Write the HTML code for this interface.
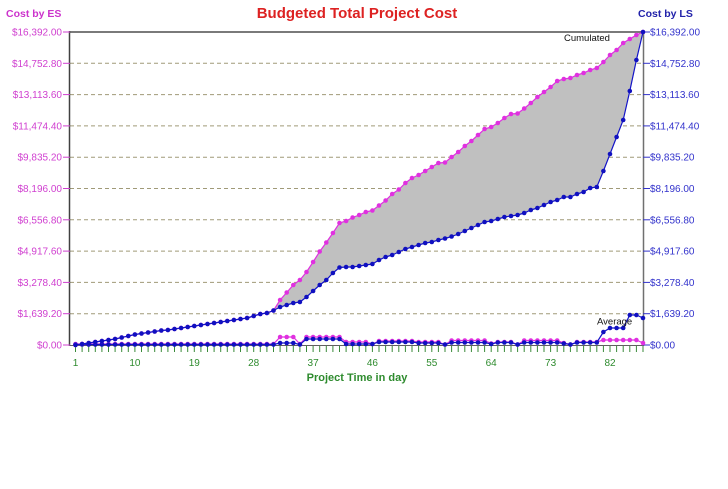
<!DOCTYPE html>
<html><head><meta charset="utf-8">
<style>
html,body{margin:0;padding:0;background:#fff;}
svg{display:block;font-family:"Liberation Sans",Arial,sans-serif;}
</style></head>
<body>
<svg width="728" height="489" viewBox="0 0 728 489" xmlns="http://www.w3.org/2000/svg">
<defs>
<marker id="mm" markerWidth="6" markerHeight="6" refX="3" refY="3" markerUnits="userSpaceOnUse"><circle cx="3" cy="3" r="2.3" fill="#e030e0"/></marker>
<marker id="mb" markerWidth="6" markerHeight="6" refX="3" refY="3" markerUnits="userSpaceOnUse"><circle cx="3" cy="3" r="2.3" fill="#1010c0"/></marker>
</defs>
<rect width="728" height="489" fill="#fff"/>

<!-- titles -->
<text x="357" y="18" text-anchor="middle" font-size="15" font-weight="bold" fill="#dd2222">Budgeted Total Project Cost</text>
<text x="6" y="17" font-size="10.5" font-weight="bold" fill="#cc33cc">Cost by ES</text>
<text x="638" y="17" font-size="10.5" font-weight="bold" fill="#2222aa">Cost by LS</text>

<!-- gridlines -->
<g stroke="#a09a78" stroke-width="1" stroke-dasharray="4,3">
<line x1="70" y1="313.7" x2="643" y2="313.7"/>
<line x1="70" y1="282.4" x2="643" y2="282.4"/>
<line x1="70" y1="251.1" x2="643" y2="251.1"/>
<line x1="70" y1="219.8" x2="643" y2="219.8"/>
<line x1="70" y1="188.5" x2="643" y2="188.5"/>
<line x1="70" y1="157.2" x2="643" y2="157.2"/>
<line x1="70" y1="125.9" x2="643" y2="125.9"/>
<line x1="70" y1="94.6" x2="643" y2="94.6"/>
<line x1="70" y1="63.3" x2="643" y2="63.3"/>
</g>

<!-- fill between -->
<polygon fill="#c0c0c0" points="273.5,310.5 280.1,300 286.7,292.5 293.3,285 299.9,280 306.5,272 313.1,262 319.7,251.5 326.3,242.5 332.9,233 339.5,223 346.1,221 352.6,217.5 359.2,215 365.8,212 372.4,210.5 379,205.5 385.6,200.5 392.2,194 398.8,189.5 405.4,183 412,178 418.6,175 425.2,171 431.8,167 438.4,163 445,162.5 451.6,157 458.2,152 464.8,146 471.4,141 478,135 484.6,129 491.2,127 497.8,123 504.4,118 511,114 517.6,113.5 524.2,108.5 530.8,103 537.4,97 544,92 550.6,87 557.2,81 563.8,79 570.4,78 577,75 583.6,73 590.2,70 596.8,68 603.4,62 610,55 616.6,50 623.2,43 629.8,39 636.4,35 643,32 636.4,60 629.8,91 623.2,120 616.6,137 610,154 603.4,171 596.8,187 590.2,188 583.6,192 577,194 570.4,197 563.8,197 557.2,200 550.6,202 544,205 537.4,208 530.8,210 524.2,213 517.6,215 511,216 504.4,217 497.8,219 491.2,221 484.6,222 478,225 471.4,228 464.8,231 458.2,234 451.6,236.5 445,238.5 438.4,240 431.8,242 425.2,243 418.6,245 412,247 405.4,249 398.8,252 392.2,255 385.6,257 379,260 372.4,264 365.8,265 359.2,266 352.6,267 346.1,267 339.5,267.5 332.9,273 326.3,280 319.7,285 313.1,291 306.5,297 299.9,302 293.3,303 286.7,305 280.1,307"/>

<!-- axes frame -->
<line x1="69" y1="32" x2="644" y2="32" stroke="#7a7a7a" stroke-width="2"/>
<line x1="69.5" y1="31" x2="69.5" y2="346" stroke="#404040" stroke-width="1.5"/>
<line x1="643.5" y1="31" x2="643.5" y2="346" stroke="#707070" stroke-width="1.5"/>
<line x1="69" y1="345.5" x2="644" y2="345.5" stroke="#606060" stroke-width="1"/>

<!-- left ticks & labels -->
<g stroke="#d040d0" stroke-width="1">
<line x1="63" y1="345" x2="70" y2="345"/><line x1="63" y1="313.7" x2="70" y2="313.7"/><line x1="63" y1="282.4" x2="70" y2="282.4"/><line x1="63" y1="251.1" x2="70" y2="251.1"/><line x1="63" y1="219.8" x2="70" y2="219.8"/><line x1="63" y1="188.5" x2="70" y2="188.5"/><line x1="63" y1="157.2" x2="70" y2="157.2"/><line x1="63" y1="125.9" x2="70" y2="125.9"/><line x1="63" y1="94.6" x2="70" y2="94.6"/><line x1="63" y1="63.3" x2="70" y2="63.3"/><line x1="63" y1="32" x2="70" y2="32"/>
</g>
<g font-size="10" fill="#d040d0" text-anchor="end">
<text x="62" y="348.5">$0.00</text>
<text x="62" y="317.2">$1,639.20</text>
<text x="62" y="285.9">$3,278.40</text>
<text x="62" y="254.6">$4,917.60</text>
<text x="62" y="223.3">$6,556.80</text>
<text x="62" y="192">$8,196.00</text>
<text x="62" y="160.7">$9,835.20</text>
<text x="62" y="129.4">$11,474.40</text>
<text x="62" y="98.1">$13,113.60</text>
<text x="62" y="66.8">$14,752.80</text>
<text x="62" y="35.5">$16,392.00</text>
</g>

<!-- right ticks & labels -->
<g stroke="#3333cc" stroke-width="1">
<line x1="643" y1="345" x2="650" y2="345"/><line x1="643" y1="313.7" x2="650" y2="313.7"/><line x1="643" y1="282.4" x2="650" y2="282.4"/><line x1="643" y1="251.1" x2="650" y2="251.1"/><line x1="643" y1="219.8" x2="650" y2="219.8"/><line x1="643" y1="188.5" x2="650" y2="188.5"/><line x1="643" y1="157.2" x2="650" y2="157.2"/><line x1="643" y1="125.9" x2="650" y2="125.9"/><line x1="643" y1="94.6" x2="650" y2="94.6"/><line x1="643" y1="63.3" x2="650" y2="63.3"/><line x1="643" y1="32" x2="650" y2="32"/>
</g>
<g font-size="10" fill="#3333cc">
<text x="650" y="348.5">$0.00</text>
<text x="650" y="317.2">$1,639.20</text>
<text x="650" y="285.9">$3,278.40</text>
<text x="650" y="254.6">$4,917.60</text>
<text x="650" y="223.3">$6,556.80</text>
<text x="650" y="192">$8,196.00</text>
<text x="650" y="160.7">$9,835.20</text>
<text x="650" y="129.4">$11,474.40</text>
<text x="650" y="98.1">$13,113.60</text>
<text x="650" y="66.8">$14,752.80</text>
<text x="650" y="35.5">$16,392.00</text>
</g>

<!-- x ticks -->
<g stroke="#3a8a3a" stroke-width="1">
<line x1="75.5" y1="346" x2="75.5" y2="352"/><line x1="82.1" y1="346" x2="82.1" y2="352"/><line x1="88.7" y1="346" x2="88.7" y2="352"/><line x1="95.3" y1="346" x2="95.3" y2="352"/><line x1="101.9" y1="346" x2="101.9" y2="352"/><line x1="108.5" y1="346" x2="108.5" y2="352"/><line x1="115.1" y1="346" x2="115.1" y2="352"/><line x1="121.7" y1="346" x2="121.7" y2="352"/><line x1="128.3" y1="346" x2="128.3" y2="352"/><line x1="134.9" y1="346" x2="134.9" y2="352"/>
<line x1="141.5" y1="346" x2="141.5" y2="352"/><line x1="148.1" y1="346" x2="148.1" y2="352"/><line x1="154.7" y1="346" x2="154.7" y2="352"/><line x1="161.3" y1="346" x2="161.3" y2="352"/><line x1="167.9" y1="346" x2="167.9" y2="352"/><line x1="174.5" y1="346" x2="174.5" y2="352"/><line x1="181.1" y1="346" x2="181.1" y2="352"/><line x1="187.7" y1="346" x2="187.7" y2="352"/><line x1="194.3" y1="346" x2="194.3" y2="352"/><line x1="200.9" y1="346" x2="200.9" y2="352"/>
<line x1="207.5" y1="346" x2="207.5" y2="352"/><line x1="214.1" y1="346" x2="214.1" y2="352"/><line x1="220.7" y1="346" x2="220.7" y2="352"/><line x1="227.3" y1="346" x2="227.3" y2="352"/><line x1="233.9" y1="346" x2="233.9" y2="352"/><line x1="240.5" y1="346" x2="240.5" y2="352"/><line x1="247.1" y1="346" x2="247.1" y2="352"/><line x1="253.7" y1="346" x2="253.7" y2="352"/><line x1="260.3" y1="346" x2="260.3" y2="352"/><line x1="266.9" y1="346" x2="266.9" y2="352"/>
<line x1="273.5" y1="346" x2="273.5" y2="352"/><line x1="280.1" y1="346" x2="280.1" y2="352"/><line x1="286.7" y1="346" x2="286.7" y2="352"/><line x1="293.3" y1="346" x2="293.3" y2="352"/><line x1="299.9" y1="346" x2="299.9" y2="352"/><line x1="306.5" y1="346" x2="306.5" y2="352"/><line x1="313.1" y1="346" x2="313.1" y2="352"/><line x1="319.7" y1="346" x2="319.7" y2="352"/><line x1="326.3" y1="346" x2="326.3" y2="352"/><line x1="332.9" y1="346" x2="332.9" y2="352"/>
<line x1="339.5" y1="346" x2="339.5" y2="352"/><line x1="346.1" y1="346" x2="346.1" y2="352"/><line x1="352.6" y1="346" x2="352.6" y2="352"/><line x1="359.2" y1="346" x2="359.2" y2="352"/><line x1="365.8" y1="346" x2="365.8" y2="352"/><line x1="372.4" y1="346" x2="372.4" y2="352"/><line x1="379" y1="346" x2="379" y2="352"/><line x1="385.6" y1="346" x2="385.6" y2="352"/><line x1="392.2" y1="346" x2="392.2" y2="352"/><line x1="398.8" y1="346" x2="398.8" y2="352"/>
<line x1="405.4" y1="346" x2="405.4" y2="352"/><line x1="412" y1="346" x2="412" y2="352"/><line x1="418.6" y1="346" x2="418.6" y2="352"/><line x1="425.2" y1="346" x2="425.2" y2="352"/><line x1="431.8" y1="346" x2="431.8" y2="352"/><line x1="438.4" y1="346" x2="438.4" y2="352"/><line x1="445" y1="346" x2="445" y2="352"/><line x1="451.6" y1="346" x2="451.6" y2="352"/><line x1="458.2" y1="346" x2="458.2" y2="352"/><line x1="464.8" y1="346" x2="464.8" y2="352"/>
<line x1="471.4" y1="346" x2="471.4" y2="352"/><line x1="478" y1="346" x2="478" y2="352"/><line x1="484.6" y1="346" x2="484.6" y2="352"/><line x1="491.2" y1="346" x2="491.2" y2="352"/><line x1="497.8" y1="346" x2="497.8" y2="352"/><line x1="504.4" y1="346" x2="504.4" y2="352"/><line x1="511" y1="346" x2="511" y2="352"/><line x1="517.6" y1="346" x2="517.6" y2="352"/><line x1="524.2" y1="346" x2="524.2" y2="352"/><line x1="530.8" y1="346" x2="530.8" y2="352"/>
<line x1="537.4" y1="346" x2="537.4" y2="352"/><line x1="544" y1="346" x2="544" y2="352"/><line x1="550.6" y1="346" x2="550.6" y2="352"/><line x1="557.2" y1="346" x2="557.2" y2="352"/><line x1="563.8" y1="346" x2="563.8" y2="352"/><line x1="570.4" y1="346" x2="570.4" y2="352"/><line x1="577" y1="346" x2="577" y2="352"/><line x1="583.6" y1="346" x2="583.6" y2="352"/><line x1="590.2" y1="346" x2="590.2" y2="352"/><line x1="596.8" y1="346" x2="596.8" y2="352"/>
<line x1="603.4" y1="346" x2="603.4" y2="352"/><line x1="610" y1="346" x2="610" y2="352"/><line x1="616.6" y1="346" x2="616.6" y2="352"/><line x1="623.2" y1="346" x2="623.2" y2="352"/><line x1="629.8" y1="346" x2="629.8" y2="352"/><line x1="636.4" y1="346" x2="636.4" y2="352"/><line x1="643" y1="346" x2="643" y2="352"/>
</g>
<g font-size="10" fill="#2e8b2e" text-anchor="middle">
<text x="75.5" y="366">1</text>
<text x="134.9" y="366">10</text>
<text x="194.3" y="366">19</text>
<text x="253.7" y="366">28</text>
<text x="313.1" y="366">37</text>
<text x="372.4" y="366">46</text>
<text x="431.8" y="366">55</text>
<text x="491.2" y="366">64</text>
<text x="550.6" y="366">73</text>
<text x="610" y="366">82</text>
</g>
<text x="357" y="381" text-anchor="middle" font-size="11" font-weight="bold" fill="#2e8b2e">Project Time in day</text>

<!-- average series -->
<polyline fill="none" stroke="#e030e0" stroke-width="1.2" marker-start="url(#mm)" marker-mid="url(#mm)" marker-end="url(#mm)" points="75.5,344 82.1,344 88.7,344 95.3,344 101.9,344 108.5,344 115.1,344 121.7,344 128.3,344 134.9,344 141.5,344 148.1,344 154.7,344 161.3,344 167.9,344 174.5,344 181.1,344 187.7,344 194.3,344 200.9,344 207.5,344 214.1,344 220.7,344 227.3,344 233.9,344 240.5,344 247.1,344 253.7,344 260.3,344 266.9,344 273.5,344 280.1,337 286.7,337 293.3,337 299.9,344 306.5,337 313.1,337 319.7,337 326.3,337 332.9,337 339.5,337 346.1,342 352.6,342 359.2,342 365.8,342 372.4,344 379,341 385.6,341 392.2,341 398.8,341 405.4,341 412,341 418.6,342 425.2,342 431.8,342 438.4,342 445,344.5 451.6,340.5 458.2,340.5 464.8,340.5 471.4,340.5 478,340.5 484.6,340.5 491.2,343.5 497.8,342 504.4,342 511,342 517.6,344.5 524.2,340.5 530.8,340.5 537.4,340.5 544,340.5 550.6,340.5 557.2,340.5 563.8,343 570.4,344.5 577,342 583.6,342 590.2,342 596.8,342 603.4,340 610,340 616.6,340 623.2,340 629.8,340 636.4,340 643,343"/>
<polyline fill="none" stroke="#1414c8" stroke-width="1.2" marker-start="url(#mb)" marker-mid="url(#mb)" marker-end="url(#mb)" points="75.5,344.5 82.1,344.5 88.7,344.5 95.3,344.5 101.9,344.5 108.5,344.5 115.1,344.5 121.7,344.5 128.3,344.5 134.9,344.5 141.5,344.5 148.1,344.5 154.7,344.5 161.3,344.5 167.9,344.5 174.5,344.5 181.1,344.5 187.7,344.5 194.3,344.5 200.9,344.5 207.5,344.5 214.1,344.5 220.7,344.5 227.3,344.5 233.9,344.5 240.5,344.5 247.1,344.5 253.7,344.5 260.3,344.5 266.9,344.5 273.5,344.5 280.1,343 286.7,343 293.3,343 299.9,344.5 306.5,339 313.1,339 319.7,339 326.3,339 332.9,339 339.5,339 346.1,344 352.6,344 359.2,344 365.8,344 372.4,344 379,342 385.6,342 392.2,342 398.8,342 405.4,342 412,342 418.6,343 425.2,343 431.8,343 438.4,343 445,344.5 451.6,342.5 458.2,342.5 464.8,342.5 471.4,342.5 478,342.5 484.6,342.5 491.2,344 497.8,342.5 504.4,342.5 511,342.5 517.6,344.5 524.2,342.5 530.8,342.5 537.4,342.5 544,342.5 550.6,342.5 557.2,342.5 563.8,343.5 570.4,344.5 577,342.5 583.6,342.5 590.2,342.5 596.8,342.5 603.4,332 610,328 616.6,328 623.2,328 629.8,315 636.4,315 643,318"/>

<!-- cumulated series -->
<polyline fill="none" stroke="#e030e0" stroke-width="1.2" marker-start="url(#mm)" marker-mid="url(#mm)" marker-end="url(#mm)" points="75.5,345 82.1,344 88.7,343 95.3,342 101.9,341 108.5,340 115.1,339 121.7,337.5 128.3,336 134.9,334.5 141.5,333.5 148.1,332.5 154.7,331.5 161.3,330.5 167.9,330 174.5,329 181.1,328 187.7,327 194.3,326 200.9,325 207.5,324 214.1,323 220.7,322 227.3,321 233.9,320 240.5,319 247.1,318 253.7,316 260.3,314 266.9,313 273.5,310.5 280.1,300 286.7,292.5 293.3,285 299.9,280 306.5,272 313.1,262 319.7,251.5 326.3,242.5 332.9,233 339.5,223 346.1,221 352.6,217.5 359.2,215 365.8,212 372.4,210.5 379,205.5 385.6,200.5 392.2,194 398.8,189.5 405.4,183 412,178 418.6,175 425.2,171 431.8,167 438.4,163 445,162.5 451.6,157 458.2,152 464.8,146 471.4,141 478,135 484.6,129 491.2,127 497.8,123 504.4,118 511,114 517.6,113.5 524.2,108.5 530.8,103 537.4,97 544,92 550.6,87 557.2,81 563.8,79 570.4,78 577,75 583.6,73 590.2,70 596.8,68 603.4,62 610,55 616.6,50 623.2,43 629.8,39 636.4,35 643,32"/>
<polyline fill="none" stroke="#1414c8" stroke-width="1.2" marker-start="url(#mb)" marker-mid="url(#mb)" marker-end="url(#mb)" points="75.5,345 82.1,344 88.7,343 95.3,342 101.9,341 108.5,340 115.1,339 121.7,337.5 128.3,336 134.9,334.5 141.5,333.5 148.1,332.5 154.7,331.5 161.3,330.5 167.9,330 174.5,329 181.1,328 187.7,327 194.3,326 200.9,325 207.5,324 214.1,323 220.7,322 227.3,321 233.9,320 240.5,319 247.1,318 253.7,316 260.3,314 266.9,313 273.5,310.5 280.1,307 286.7,305 293.3,303 299.9,302 306.5,297 313.1,291 319.7,285 326.3,280 332.9,273 339.5,267.5 346.1,267 352.6,267 359.2,266 365.8,265 372.4,264 379,260 385.6,257 392.2,255 398.8,252 405.4,249 412,247 418.6,245 425.2,243 431.8,242 438.4,240 445,238.5 451.6,236.5 458.2,234 464.8,231 471.4,228 478,225 484.6,222 491.2,221 497.8,219 504.4,217 511,216 517.6,215 524.2,213 530.8,210 537.4,208 544,205 550.6,202 557.2,200 563.8,197 570.4,197 577,194 583.6,192 590.2,188 596.8,187 603.4,171 610,154 616.6,137 623.2,120 629.8,91 636.4,60 643,32"/>

<!-- series labels -->
<text x="564" y="41" font-size="9.5" fill="#111">Cumulated</text>
<text x="597" y="324.5" font-size="9.5" fill="#111">Average</text>
</svg>
</body></html>
